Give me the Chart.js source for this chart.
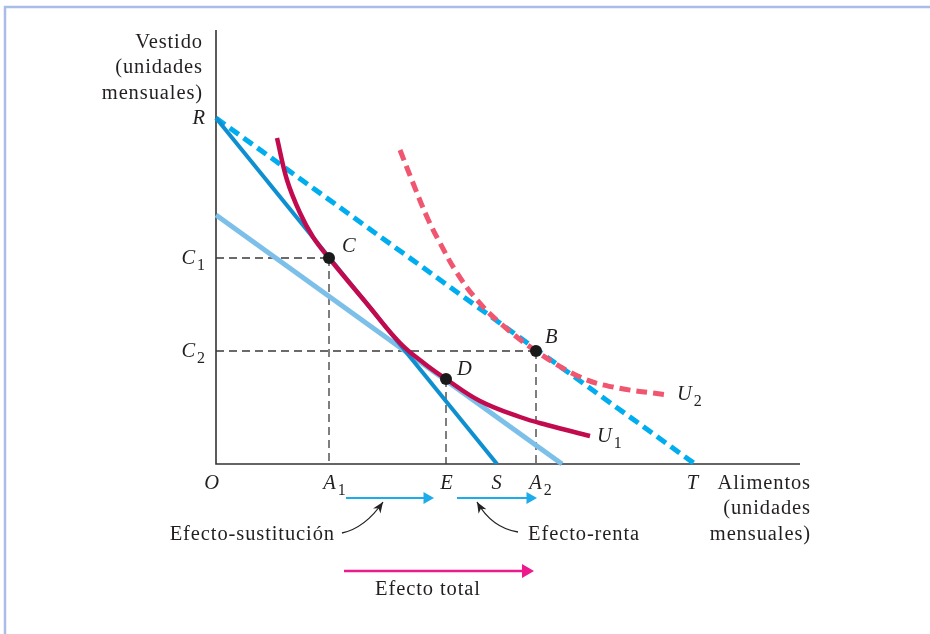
<!DOCTYPE html>
<html>
<head>
<meta charset="utf-8">
<script src="https://cdn.jsdelivr.net/npm/chart.js@4.4.1/dist/chart.umd.min.js"></script>
<style>
  html, body { margin: 0; padding: 0; background: #fff; }
  #wrap { width: 930px; height: 634px; position: relative; }
</style>
</head>
<body>
<div id="wrap"><canvas id="effectsChart"></canvas></div>
<script>
// valores (unidades arbitrarias)
const budgetRS = [[0, 8.65], [7.025, 0]];
const budgetRT = [[0, 8.65], [11.975, 0]];
const budgetParallel = [[0, 6.225], [8.65, 0]];

const u1X = [1.525, 1.775, 2.1, 2.425, 2.825, 3.8, 4.6, 5.225, 5.75, 6.6, 7.6, 8.275, 9.35];
const u1Y = [8.15, 7.1, 6.275, 5.675, 5.15, 3.975, 3.025, 2.5, 2.125, 1.575, 1.175, 0.975, 0.7];
const u2X = [4.6, 4.925, 5.275, 5.6, 6.025, 6.525, 7.1, 8.0, 9.1, 9.925, 11.275];
const u2Y = [7.85, 7.025, 6.175, 5.525, 4.775, 4.1, 3.525, 2.825, 2.175, 1.925, 1.725];

const optimaLabels = ['C', 'D', 'B'];
const optimaX = [2.825, 5.75, 8.0];
const optimaY = [5.15, 2.125, 2.825];

const xTickLabels = ['O', 'A', 'E', 'S', 'A', 'T'];
const xTickSubs = ['', '1', '', '', '2', ''];
const xTickValues = [0, 2.825, 5.75, 7.025, 8.0, 11.975];
const yTickLabels = ['R', 'C', 'C'];
const yTickSubs = ['', '1', '2'];
const yTickValues = [8.65, 5.15, 2.825];

const axisMaxX = 14.6;
const axisMaxY = 10.85;

// flechas de los efectos: [inicio, fin]
const substitutionArrow = [3.25, 5.275];
const incomeArrow = [6.025, 7.85];
const totalArrow = [3.2, 7.75];
const effectLabels = ['Efecto-sustitución', 'Efecto-renta', 'Efecto total'];

const toPts = (xs, ys) => xs.map((x, i) => ({ x: x, y: ys[i] }));
const pair = arr => arr.map(p => ({ x: p[0], y: p[1] }));

const SERIF = '"Liberation Serif", "Times New Roman", serif';
const FS = 20.5;

function line(data, color, width, dash, extra) {
	return Object.assign({
		data: data,
		showLine: true,
		borderColor: color,
		borderWidth: width,
		borderDash: dash || [],
		pointRadius: 0,
		fill: false,
		tension: 0
	}, extra || {});
}

function arrow(x0, x1, y, color, width, head) {
	return line([{ x: x0, y: y }, { x: x1, y: y }], color, width, [], {
		pointRadius: [0, head],
		pointStyle: 'triangle',
		rotation: 90,
		pointBackgroundColor: color,
		pointBorderColor: color,
		pointBorderWidth: 0
	});
}

const guides = [];
optimaX.forEach((x, i) => {
	if (optimaLabels[i] !== 'D') {
		guides.push(line([{ x: 0, y: optimaY[i] }, { x: x, y: optimaY[i] }], '#3a3a3a', 1.3, [8, 5]));
	}
	guides.push(line([{ x: x, y: optimaY[i] }, { x: x, y: 0 }], '#3a3a3a', 1.3, [8, 5]));
});

function drawSub(ctx, main, sub, x, y, align, italic) {
	const mainFont = (italic ? 'italic ' : '') + FS + 'px ' + SERIF;
	const subFont = '16px ' + SERIF;
	ctx.font = mainFont;
	const wMain = ctx.measureText(main).width;
	ctx.font = subFont;
	const wSub = sub ? ctx.measureText(sub).width + 1 : 0;
	const total = wMain + wSub;
	let start = x;
	if (align === 'center') start = x - total / 2;
	if (align === 'right') start = x - total;
	ctx.textAlign = 'left';
	ctx.textBaseline = 'middle';
	ctx.font = mainFont;
	ctx.fillText(main, start, y);
	if (sub) {
		ctx.font = subFont;
		ctx.fillText(sub, start + wMain + 1, y + 7);
	}
}

function pointer(ctx, p0, c, p1) {
	ctx.beginPath();
	ctx.moveTo(p0[0], p0[1]);
	ctx.quadraticCurveTo(c[0], c[1], p1[0], p1[1]);
	ctx.lineWidth = 1.3;
	ctx.strokeStyle = '#222';
	ctx.stroke();
	const ang = Math.atan2(p1[1] - c[1], p1[0] - c[0]);
	const len = 11, half = 4.5;
	ctx.save();
	ctx.translate(p1[0], p1[1]);
	ctx.rotate(ang);
	ctx.beginPath();
	ctx.moveTo(0, 0);
	ctx.lineTo(-len, -half);
	ctx.lineTo(-len * 0.7, 0);
	ctx.lineTo(-len, half);
	ctx.closePath();
	ctx.fillStyle = '#222';
	ctx.fill();
	ctx.restore();
}

const framePlugin = {
	id: 'frame',
	beforeDraw(chart) {
		const ctx = chart.ctx;
		ctx.save();
		ctx.fillStyle = '#fff';
		ctx.fillRect(0, 0, chart.width, chart.height);
		ctx.strokeStyle = '#a9bde6';
		ctx.lineWidth = 2.5;
		ctx.beginPath();
		ctx.moveTo(5, chart.height);
		ctx.lineTo(5, 7);
		ctx.lineTo(chart.width, 7);
		ctx.stroke();
		ctx.restore();
	}
};

const labelPlugin = {
	id: 'labels',
	afterDatasetsDraw(chart) {
		const ctx = chart.ctx;
		const sx = v => chart.scales.x.getPixelForValue(v);
		const sy = v => chart.scales.y.getPixelForValue(v) + 1.5; // texto algo mas abajo
		ctx.save();
		ctx.fillStyle = '#231f20';
		ctx.letterSpacing = '0.9px';

		// marcas en el eje horizontal
		const xNudge = [-4, 6, 1, 0, 5, -2];
		xTickLabels.forEach((t, i) => {
			drawSub(ctx, t, xTickSubs[i], sx(xTickValues[i]) + xNudge[i], sy(0) + 18, 'center', true);
		});
		// marcas en el eje vertical
		yTickLabels.forEach((t, i) => {
			drawSub(ctx, t, yTickSubs[i], sx(0) - 10, sy(yTickValues[i]) - 1, 'right', true);
		});

		// titulos de ejes
		ctx.font = FS + 'px ' + SERIF;
		ctx.textBaseline = 'middle';
		ctx.textAlign = 'right';
		const yTitle = ['Vestido', '(unidades', 'mensuales)'];
		yTitle.forEach((t, i) => ctx.fillText(t, sx(0) - 13, sy(axisMaxY) + 11 + i * 25.5));
		const xTitle = ['Alimentos', '(unidades', 'mensuales)'];
		xTitle.forEach((t, i) => ctx.fillText(t, sx(axisMaxX) + 11, sy(0) + 18 + i * 25.5));

		// puntos C, D, B
		const optNudge = [[13, -13], [11, -11], [9, -15]];
		optimaLabels.forEach((t, i) => {
			drawSub(ctx, t, '', sx(optimaX[i]) + optNudge[i][0], sy(optimaY[i]) + optNudge[i][1], 'left', true);
		});

		// curvas
		drawSub(ctx, 'U', '1', sx(u1X[u1X.length - 1]) + 7, sy(u1Y[u1Y.length - 1]) - 1, 'left', true);
		drawSub(ctx, 'U', '2', sx(u2X[u2X.length - 1]) + 10, sy(u2Y[u2Y.length - 1]) - 2, 'left', true);

		// efectos
		ctx.font = FS + 'px ' + SERIF;
		ctx.textBaseline = 'middle';
		ctx.textAlign = 'right';
		ctx.fillText(effectLabels[0], sx(2.975), sy(-1.725));
		ctx.textAlign = 'left';
		ctx.fillText(effectLabels[1], sx(7.8), sy(-1.725));
		ctx.textAlign = 'center';
		ctx.fillText(effectLabels[2], sx(5.3), sy(-3.1));

		ctx.letterSpacing = '0px';
		const py = v => chart.scales.y.getPixelForValue(v);
		pointer(ctx, [sx(3.15), py(-1.725)], [sx(3.725), py(-1.6)], [sx(4.175), py(-0.95)]);
		pointer(ctx, [sx(7.55), py(-1.7)], [sx(6.9), py(-1.6)], [sx(6.525), py(-0.95)]);
		ctx.restore();
	}
};

const data = {
	datasets: [
		line(toPts(optimaX, optimaY), '#1a1a1a', 0, [], {
			showLine: false, pointRadius: 6, pointBackgroundColor: '#1a1a1a', pointBorderWidth: 0
		}),
		line(toPts(u1X, u1Y), '#c20a4e', 4.5, [], { tension: 0.4 }),
		line(pair(budgetRS), '#0d8fd0', 4),
		line(pair(budgetParallel), '#7cc0ea', 5),
		line(toPts(u2X, u2Y), '#f0566f', 5, [11, 6], { tension: 0.4 }),
		line(pair(budgetRT), '#00aeef', 5, [11, 6]),
		...guides,
		line([{ x: 0, y: axisMaxY }, { x: 0, y: 0 }, { x: axisMaxX, y: 0 }], '#333', 1.6),
		arrow(substitutionArrow[0], substitutionArrow[1], -0.85, '#1cacea', 2, 7),
		arrow(incomeArrow[0], incomeArrow[1], -0.85, '#1cacea', 2, 7),
		arrow(totalArrow[0], totalArrow[1], -2.675, '#ec1a8c', 2.5, 8)
	]
};

const config = {
	type: 'scatter',
	data: data,
	plugins: [framePlugin, labelPlugin],
	options: {
		responsive: true,
		maintainAspectRatio: false,
		devicePixelRatio: 1,
		animation: false,
		layout: { padding: 0, autoPadding: false },
		plugins: {
			legend: { display: false },
			tooltip: { enabled: false }
		},
		scales: {
			x: { type: 'linear', min: -5.4, max: 17.85, display: false },
			y: { type: 'linear', min: -4.25, max: 11.6, display: false }
		}
	}
};

const effectsChart = new Chart(
	document.getElementById('effectsChart').getContext('2d'),
	config
);
</script>
</body>
</html>
